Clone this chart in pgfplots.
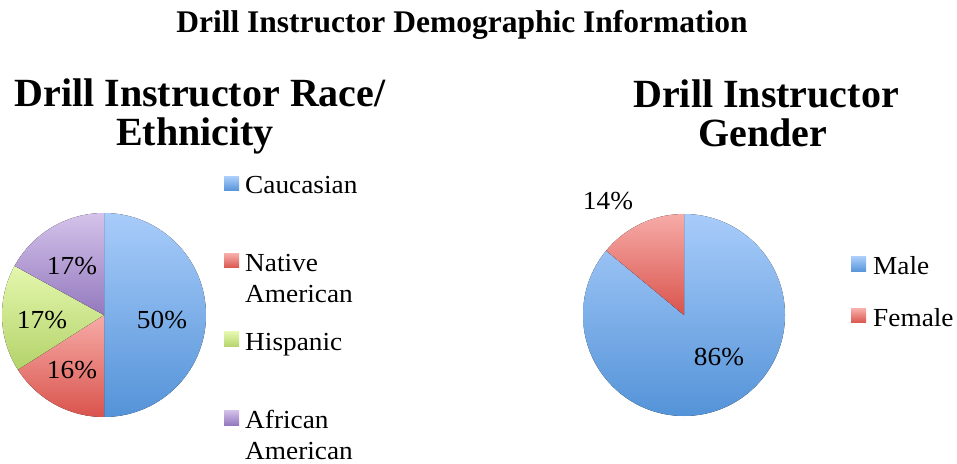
\documentclass[border=0pt]{standalone}
\usepackage{pgfplots}
\pgfplotsset{compat=1.18}
\usepackage{pgfplotstable}
\usepackage{fontspec}
\setmainfont{Liberation Serif}
\newfontfamily\camb[FakeStretch=1.05]{Liberation Serif}
\newfontfamily\cambb[FakeStretch=1.0]{Liberation Serif Bold}

\definecolor{blueT}{HTML}{A8CCFA}\definecolor{blueB}{HTML}{5493D8}
\definecolor{redT}{HTML}{F7ABA7}\definecolor{redB}{HTML}{D9544D}
\definecolor{greenT}{HTML}{E4F7AE}\definecolor{greenB}{HTML}{B4D36A}
\definecolor{purpT}{HTML}{D4C3EA}\definecolor{purpB}{HTML}{9479BE}

\pgfplotstableread{
label value
Caucasian 50
NativeAmerican 16
Hispanic 17
AfricanAmerican 17
}\racedata
\pgfplotstableread{
label value
Male 86
Female 14
}\genderdata

% slice: cx, cy, r, cum-before (percent), value (percent), top colour, bottom colour
\newcommand{\slice}[7]{%
  \fill[top color=#6,bottom color=#7,draw=none]
    (axis cs:#1,#2) -- ++({90-3.6*(#4)}:#3pt)
    arc[start angle={90-3.6*(#4)},end angle={90-3.6*((#4)+(#5))},radius=#3pt] -- cycle;}

\begin{document}
\begin{tikzpicture}
\pgfplotstablegetelem{0}{value}\of\racedata \edef\rA{\pgfplotsretval}
\pgfplotstablegetelem{1}{value}\of\racedata \edef\rB{\pgfplotsretval}
\pgfplotstablegetelem{2}{value}\of\racedata \edef\rC{\pgfplotsretval}
\pgfplotstablegetelem{3}{value}\of\racedata \edef\rD{\pgfplotsretval}
\pgfplotstablegetelem{0}{value}\of\genderdata \edef\gA{\pgfplotsretval}
\pgfplotstablegetelem{1}{value}\of\genderdata \edef\gB{\pgfplotsretval}
\pgfmathsetmacro\cB{\rA}
\pgfmathsetmacro\cC{\rA+\rB}
\pgfmathsetmacro\cD{\rA+\rB+\rC}
\begin{axis}[x=1pt,y=1pt,xmin=0,xmax=957,ymin=0,ymax=463,
  scale only axis,hide axis,clip=false,anchor=south west,at={(0,0)}]
% left pie (centre 104,315 px)
\slice{104}{148}{102}{0}{\rA}{blueT}{blueB}
\slice{104}{148}{102}{\cB}{\rB}{redT}{redB}
\slice{104}{148}{102}{\cC}{\rC}{greenT}{greenB}
\slice{104}{148}{102}{\cD}{\rD}{purpT}{purpB}
% right pie (centre 684,315 px)
\slice{684}{148}{101}{0}{\gA}{blueT}{blueB}
\slice{684}{148}{101}{\gA}{\gB}{redT}{redB}

% titles
\node[anchor=base,inner sep=0,font=\bfseries\fontsize{31.5}{31.5}\selectfont] at (axis cs:462,430) {Drill Instructor Demographic Information};
\node[anchor=base,inner sep=0,font=\cambb\fontsize{40}{40}\selectfont] at (axis cs:200,356) {Drill Instructor Race/};
\node[anchor=base,inner sep=0,font=\cambb\fontsize{40}{40}\selectfont] at (axis cs:195,317) {Ethnicity};
\node[anchor=base,inner sep=0,font=\cambb\fontsize{40}{40}\selectfont] at (axis cs:766,355) {Drill Instructor};
\node[anchor=base,inner sep=0,font=\cambb\fontsize{40}{40}\selectfont] at (axis cs:763,316) {Gender};

% percentage labels
\begin{scope}[every node/.style={anchor=base,inner sep=0,font=\camb\fontsize{26}{26}\selectfont}]
\node at (axis cs:162,135) {\rA\%};
\node at (axis cs:72,85) {\rB\%};
\node at (axis cs:42,135) {\rC\%};
\node at (axis cs:72,188) {\rD\%};
\node at (axis cs:608,253) {\gB\%};
\node at (axis cs:719,98) {\gA\%};
\end{scope}

% legends
\begin{scope}[every node/.style={anchor=base west,inner sep=0,font=\camb\fontsize{26}{26}\selectfont,align=left}]
\fill[top color=blueT,bottom color=blueB] (axis cs:224,272) rectangle (axis cs:239,286);
\node at (axis cs:245,269) {Caucasian};
\fill[top color=redT,bottom color=redB] (axis cs:224,195) rectangle (axis cs:239,209);
\node at (axis cs:245,191) {Native};
\node at (axis cs:245,160) {American};
\fill[top color=greenT,bottom color=greenB] (axis cs:224,116) rectangle (axis cs:239,131);
\node at (axis cs:245,113) {Hispanic};
\fill[top color=purpT,bottom color=purpB] (axis cs:224,38) rectangle (axis cs:239,53);
\node at (axis cs:245,35) {African};
\node at (axis cs:245,4) {American};
\fill[top color=blueT,bottom color=blueB] (axis cs:851,191) rectangle (axis cs:866,206);
\node at (axis cs:873,188) {Male};
\fill[top color=redT,bottom color=redB] (axis cs:851,140) rectangle (axis cs:866,154);
\node at (axis cs:873,136) {Female};
\end{scope}
\end{axis}
\pgfresetboundingbox
\path (0,0) rectangle (957pt,463pt);
\end{tikzpicture}
\end{document}
